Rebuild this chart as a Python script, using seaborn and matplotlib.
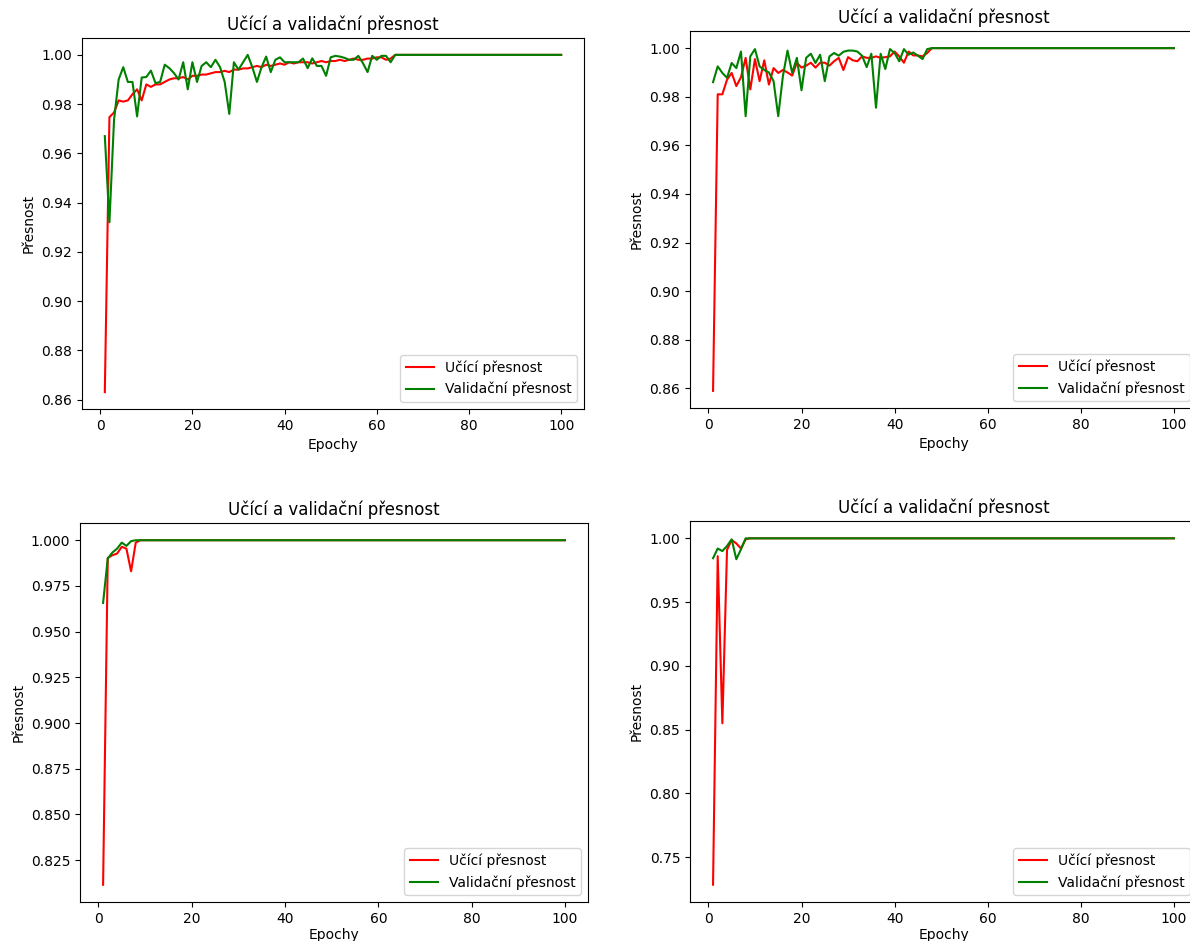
import matplotlib
matplotlib.use("Agg")
import matplotlib.pyplot as plt
import seaborn as sns
import pandas as pd

epochs = list(range(1, 101))

# Panel 1 (top-left)
train_1 = [0.863, 0.9747, 0.9766, 0.9815, 0.981, 0.9815, 0.984, 0.986, 0.9815, 0.988,
           0.987, 0.988, 0.988, 0.989, 0.990, 0.9905, 0.9905, 0.991, 0.990, 0.9915,
           0.9915, 0.992, 0.992, 0.9925, 0.993, 0.993, 0.9935, 0.993, 0.994, 0.994,
           0.9945, 0.9945, 0.995, 0.9955, 0.995, 0.996, 0.9955, 0.996, 0.9965, 0.996,
           0.997, 0.9965, 0.997, 0.997, 0.997, 0.9965, 0.997, 0.9975, 0.997, 0.9975,
           0.9975, 0.998, 0.9975, 0.998, 0.9985, 0.998, 0.998, 0.9985, 0.9985, 0.999,
           0.999, 0.998, 0.9985] + [1.0] * 37
val_1 = [0.967, 0.932, 0.9736, 0.990, 0.995, 0.989, 0.989, 0.975, 0.9908, 0.991,
         0.9936, 0.9885, 0.989, 0.996, 0.9946, 0.9926, 0.990, 0.997, 0.986, 0.997,
         0.989, 0.9955, 0.997, 0.995, 0.998, 0.995, 0.989, 0.976, 0.997, 0.994,
         0.997, 1.0, 0.995, 0.989, 0.995, 0.9993, 0.993, 0.998, 0.999, 0.997,
         0.997, 0.997, 0.997, 0.9985, 0.9946, 0.9986, 0.9955, 0.9955, 0.9915, 0.999,
         0.9996, 0.9993, 0.9988, 0.998, 0.998, 0.9996, 0.9966, 0.993, 0.9996, 0.998,
         0.9996, 0.9996, 0.997] + [1.0] * 37

# Panel 2 (top-right)
train_2 = [0.859, 0.981, 0.981, 0.987, 0.9898, 0.9844, 0.988, 0.996, 0.983, 0.9955,
           0.9864, 0.995, 0.985, 0.9918, 0.9898, 0.991, 0.990, 0.9887, 0.994, 0.992,
           0.9928, 0.994, 0.992, 0.994, 0.994, 0.9928, 0.9946, 0.996, 0.991, 0.9963,
           0.995, 0.9946, 0.9966, 0.996, 0.996, 0.9966, 0.996, 0.9963, 0.9966, 0.9986,
           0.9966, 0.994, 0.9986, 0.997, 0.997, 0.9966, 0.998] + [1.0] * 53
val_2 = [0.986, 0.9925, 0.9898, 0.9878, 0.9939, 0.9918, 0.9986, 0.972, 0.9966, 0.9996,
         0.9925, 0.991, 0.990, 0.9864, 0.972, 0.9884, 0.999, 0.9898, 0.996, 0.9827,
         0.996, 0.9977, 0.9939, 0.9973, 0.9864, 0.9966, 0.998, 0.9969, 0.9985, 0.999,
         0.999, 0.9986, 0.9969, 0.9922, 0.9977, 0.9755, 0.9977, 0.9914, 0.9996, 0.998,
         0.9946, 0.9996, 0.9973, 0.9982, 0.9969, 0.9955, 0.9996] + [1.0] * 53

# Panel 3 (bottom-left)
train_3 = [0.8115, 0.9903, 0.9918, 0.9927, 0.9964, 0.9954, 0.983, 0.9987] + [1.0] * 92
val_3 = [0.9657, 0.990, 0.9933, 0.9954, 0.9987, 0.9969, 0.9995] + [1.0] * 93

# Panel 4 (bottom-right)
train_4 = [0.7285, 0.986, 0.855, 0.9909, 0.9987, 0.996, 0.992, 0.9992] + [1.0] * 92
val_4 = [0.9844, 0.992, 0.990, 0.994, 0.9992, 0.9836, 0.9914] + [1.0] * 93

title_text = "Učící a validační přesnost"
xlabel_text = "Epochy"
ylabel_text = "Přesnost"
train_label = "Učící přesnost"
val_label = "Validační přesnost"

W, H = 1190, 941
fig = plt.figure(figsize=(W / 100, H / 100), dpi=100)
fig.patch.set_facecolor("white")

# pixel boxes: left, right, top, bottom
boxes = [
    (82, 584, 38, 409),
    (690, 1197, 31, 408),
    (80, 588, 523, 902),
    (690, 1197, 521, 902),
]
series = [(train_1, val_1), (train_2, val_2), (train_3, val_3), (train_4, val_4)]

for i, ((l, r, t, b), (tr, va)) in enumerate(zip(boxes, series)):
    ax = fig.add_axes([l / W, (H - b) / H, (r - l) / W, (b - t) / H])
    df = pd.DataFrame({"epoch": epochs, "train": tr, "val": va})
    sns.lineplot(data=df, x="epoch", y="train", ax=ax, color="red",
                 linewidth=1.5, label=train_label)
    sns.lineplot(data=df, x="epoch", y="val", ax=ax, color="green",
                 linewidth=1.5, label=val_label)
    ax.set_title(title_text, fontsize=12)
    ax.set_xlabel(xlabel_text, fontsize=10, labelpad=2 if i >= 2 else 4)
    ax.set_ylabel(ylabel_text, fontsize=10)
    ax.set_xticks([0, 20, 40, 60, 80, 100])
    ax.tick_params(labelsize=10)
    ax.legend(loc="lower right", fontsize=10)

fig.savefig("out.png", dpi=100, facecolor="white")
